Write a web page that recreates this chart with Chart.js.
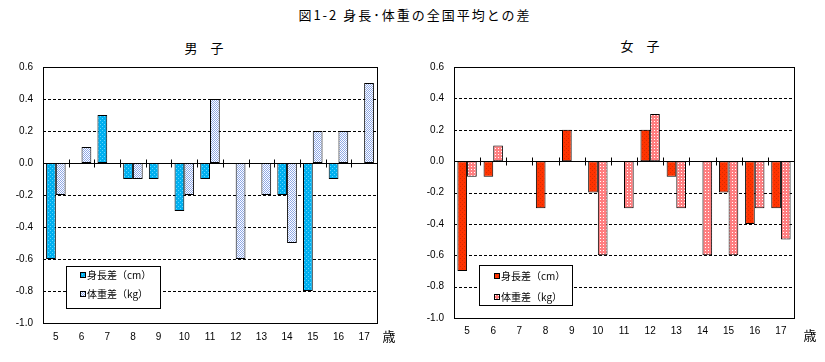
<!DOCTYPE html>
<html><head><meta charset="utf-8">
<script src="https://cdn.jsdelivr.net/npm/chart.js@4"></script>
<style>
html,body{margin:0;padding:0;background:#fff;width:825px;height:362px;overflow:hidden;}
#wrap{position:relative;width:825px;height:362px;}
.t{position:absolute;font-family:"Noto Sans CJK JP";color:#000;white-space:nowrap;transform:translate(-50%,-50%);line-height:1;}
canvas{position:absolute;top:0;}
</style></head><body>
<div id="wrap">
<div class="t" id="main" style="left:415px;top:14px;font-size:13px;letter-spacing:2px;"></div>
<div class="t" id="sub1" style="left:204px;top:47px;font-size:13px;"></div>
<div class="t" id="sub2" style="left:640px;top:45px;font-size:13px;"></div>
<canvas id="c1" width="410" height="362" style="left:0px"></canvas>
<canvas id="c2" width="415" height="362" style="left:410px"></canvas>
</div>
<script>
// ---- data ----
const mainTitle = '図1-2 身長･体重の全国平均との差';
const boysTitle = '男　子';
const girlsTitle = '女　子';
const unitLabel = '歳';
const ages = ['5','6','7','8','9','10','11','12','13','14','15','16','17'];
const seriesNames = ['身長差（cm）', '体重差（kg）'];
const boysHeight = [-0.6, 0, 0.3, -0.1, -0.1, -0.3, -0.1, 0, 0, -0.2, -0.8, -0.1, 0];
const boysWeight = [-0.2, 0.1, 0, -0.1, 0, -0.2, 0.4, -0.6, -0.2, -0.5, 0.2, 0.2, 0.5];
const girlsHeight = [-0.7, -0.1, 0, -0.3, 0.2, -0.2, 0, 0.2, -0.1, 0, -0.2, -0.4, -0.3];
const girlsWeight = [-0.1, 0.1, 0, 0, 0, -0.6, -0.3, 0.3, -0.3, -0.6, -0.6, -0.3, -0.5];
const yMin = -1.0, yMax = 0.6, yStep = 0.2;

document.getElementById('main').textContent = mainTitle;
document.getElementById('sub1').textContent = boysTitle;
document.getElementById('sub2').textContent = girlsTitle;

function makePattern(size, bg, fg, dots) {
  const c = document.createElement('canvas');
  c.width = size; c.height = size;
  const g = c.getContext('2d');
  g.fillStyle = bg; g.fillRect(0, 0, size, size);
  g.fillStyle = fg;
  dots.forEach(d => g.fillRect(d[0], d[1], 1, 1));
  return g.createPattern(c, 'repeat');
}
const patBoysH = makePattern(4, '#00B0F0', '#5FD6FF', [[0,0],[2,2]]);
const patBoysW = makePattern(2, '#FFFFFF', '#8EA8E6', [[0,0],[1,1]]);
const patGirlsH = makePattern(4, '#FF3300', '#D92B00', [[0,0],[2,2]]);
const patGirlsW = makePattern(3, '#FF7E80', '#FFFFFF', [[1,1]]);

const framePlugin = {
  id: 'frame',
  beforeDatasetsDraw(chart) {
    const {ctx, chartArea: a, scales: {x, y}} = chart;
    ctx.save();
    ctx.lineWidth = 1;
    ctx.strokeStyle = '#000';
    y.ticks.forEach(t => {
      const v = t.value;
      if (v <= y.min + 1e-9 || v >= y.max - 1e-9) return;
      const py = Math.round(y.getPixelForValue(v)) + 0.5;
      ctx.setLineDash(Math.abs(v) < 1e-9 ? [] : [3, 2]);
      ctx.beginPath(); ctx.moveTo(a.left, py); ctx.lineTo(a.right, py); ctx.stroke();
    });
    ctx.setLineDash([]);
    const y0 = Math.round(y.getPixelForValue(0)) + 0.5;
    for (let i = 1; i < x.ticks.length; i++) {
      const px = Math.round((x.getPixelForTick(i - 1) + x.getPixelForTick(i)) / 2) + 0.5;
      ctx.beginPath(); ctx.moveTo(px, y0 - 4); ctx.lineTo(px, y0 + 4); ctx.stroke();
    }
    ctx.strokeRect(Math.round(a.left) + 0.5, Math.round(a.top) + 0.5,
                   Math.round(a.right - a.left), Math.round(a.bottom - a.top));
    ctx.restore();
  },
  afterDatasetsDraw(chart, args, opts) {
    const {ctx, chartArea: a} = chart;
    ctx.save();
    const L = opts.legend;
    ctx.fillStyle = '#fff';
    ctx.fillRect(L.x, L.y, L.w, L.h);
    ctx.strokeStyle = '#000'; ctx.lineWidth = 1;
    ctx.strokeRect(L.x + 0.5, L.y + 0.5, L.w, L.h);
    ctx.font = '10px "Noto Sans CJK JP"';
    ctx.textBaseline = 'middle';
    ctx.textAlign = 'left';
    chart.data.datasets.forEach((ds, i) => {
      const cy = L.y + L.rows[i];
      const mx = L.x + L.mx;
      ctx.fillStyle = ds.backgroundColor;
      ctx.fillRect(mx, cy - 3, 6, 6);
      ctx.strokeStyle = '#000';
      ctx.strokeRect(mx + 0.5, cy - 2.5, 5, 5);
      ctx.fillStyle = '#000';
      ctx.fillText(ds.label, mx + 7, cy);
    });
    ctx.font = '13px "Noto Sans CJK JP"';
    ctx.textAlign = 'center';
    ctx.fillText(unitLabel, a.right + opts.unitDx, opts.unitY);
    ctx.restore();
  }
};

function makeChart(id, hData, wData, hPat, wPat, cfg) {
  return new Chart(document.getElementById(id), {
    type: 'bar',
    data: {
      labels: ages,
      datasets: [
        {label: seriesNames[0], data: hData, backgroundColor: hPat, borderColor: '#000', borderWidth: 1, borderSkipped: false},
        {label: seriesNames[1], data: wData, backgroundColor: wPat, borderColor: '#000', borderWidth: 1, borderSkipped: false}
      ]
    },
    options: {
      responsive: false,
      animation: false,
      events: [],
      layout: {padding: {left: 0, top: 67, right: cfg.padRight, bottom: 0}},
      datasets: {bar: {categoryPercentage: cfg.catPct, barPercentage: 1.0}},
      scales: {
        x: {
          grid: {display: false, drawTicks: false},
          border: {display: false},
          ticks: {color: '#000', font: {family: 'Liberation Sans', size: 10}, padding: cfg.xPad, maxRotation: 0, autoSkip: false},
          afterFit: s => { s.height = cfg.xH; }
        },
        y: {
          min: yMin, max: yMax,
          grid: {display: false, drawTicks: false},
          border: {display: false},
          ticks: {
            stepSize: yStep, color: '#000', padding: 10,
            font: {family: 'Liberation Sans', size: 10},
            callback: v => (Math.abs(v) < 1e-9 ? 0 : v).toFixed(1)
          },
          afterFit: s => { s.width = cfg.yW; }
        }
      },
      plugins: {
        legend: {display: false},
        tooltip: {enabled: false},
        title: {display: false},
        frame: {legend: cfg.legend, unitDx: cfg.unitDx, unitY: cfg.unitY}
      }
    },
    plugins: [framePlugin]
  });
}

makeChart('c1', boysHeight, boysWeight, patBoysH, patBoysW, {
  padRight: 33, xH: 39, yW: 43, xPad: 8, catPct: 0.76,
  legend: {x: 66, y: 266, w: 94, h: 42, mx: 14, rows: [9, 28]},
  unitDx: 12, unitY: 336
});
makeChart('c2', girlsHeight, girlsWeight, patGirlsH, patGirlsW, {
  padRight: 31, xH: 44, yW: 44, xPad: 7, catPct: 0.74,
  legend: {x: 69, y: 265, w: 93, h: 40, mx: 15, rows: [11, 32]},
  unitDx: 16, unitY: 335
});
</script>
</body></html>
